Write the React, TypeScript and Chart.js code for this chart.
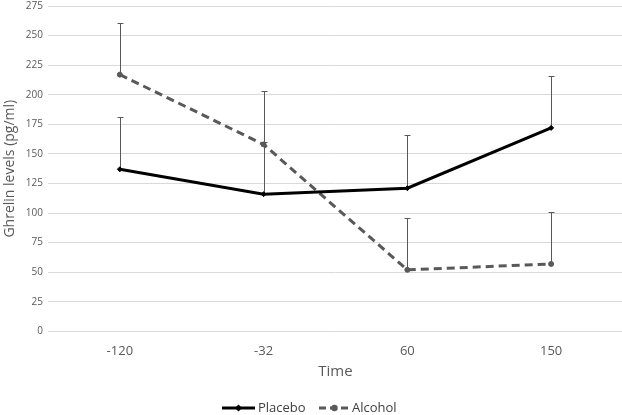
import React, { useEffect, useRef } from "react";
import { Chart, registerables } from "chart.js";

Chart.register(...registerables);

const categories = ["-120", "-32", "60", "150"];
const placeboValues = [137, 116, 121, 172];
const placeboErrUp = [44, 44, 45, 44];
const alcoholValues = [217, 158, 52, 57];
const alcoholErrUp = [44, 45, 44, 44];
const yTicks = [0, 25, 50, 75, 100, 125, 150, 175, 200, 225, 250, 275];

const FONT = "'Open Sans', 'Liberation Sans', sans-serif";
const GRAY = "#595959";
const CW = 628;
const CH = 420;

const errorBarPlugin = {
  id: "errorBars",
  beforeDatasetsDraw(chart: any) {
    const ctx = chart.ctx;
    const x = chart.scales.x;
    const y = chart.scales.y;
    const sets = [
      { vals: placeboValues, err: placeboErrUp },
      { vals: alcoholValues, err: alcoholErrUp },
    ];
    ctx.save();
    ctx.strokeStyle = GRAY;
    ctx.lineWidth = 1;
    sets.forEach((s) => {
      s.vals.forEach((v, i) => {
        const px = Math.round(x.getPixelForValue(i)) + 0.5;
        const y0 = y.getPixelForValue(v);
        const y1 = Math.round(y.getPixelForValue(v + s.err[i])) + 0.5;
        ctx.beginPath();
        ctx.moveTo(px, y0);
        ctx.lineTo(px, y1);
        ctx.moveTo(px - 3, y1);
        ctx.lineTo(px + 3, y1);
        ctx.stroke();
      });
    });
    ctx.restore();
  },
};

const legendPlugin = {
  id: "customLegend",
  afterDraw(chart: any) {
    const ctx = chart.ctx;
    const cy = chart.height - 7;
    ctx.save();
    ctx.font = `13px ${FONT}`;
    ctx.textBaseline = "middle";
    // Placebo
    ctx.strokeStyle = "#000";
    ctx.lineWidth = 3;
    ctx.setLineDash([]);
    ctx.beginPath();
    ctx.moveTo(222, cy);
    ctx.lineTo(255, cy);
    ctx.stroke();
    ctx.fillStyle = "#000";
    ctx.beginPath();
    ctx.moveTo(238.5, cy - 3.5);
    ctx.lineTo(242, cy);
    ctx.lineTo(238.5, cy + 3.5);
    ctx.lineTo(235, cy);
    ctx.closePath();
    ctx.fill();
    ctx.fillStyle = "#404040";
    ctx.fillText("Placebo", 258, cy);
    // Alcohol
    ctx.strokeStyle = GRAY;
    ctx.setLineDash([7, 4]);
    ctx.beginPath();
    ctx.moveTo(319, cy);
    ctx.lineTo(350, cy);
    ctx.stroke();
    ctx.setLineDash([]);
    ctx.fillStyle = GRAY;
    ctx.beginPath();
    ctx.arc(334.5, cy, 3.2, 0, Math.PI * 2);
    ctx.fill();
    ctx.fillStyle = "#404040";
    ctx.fillText("Alcohol", 352, cy);
    ctx.restore();
  },
};

export default function App() {
  const ref = useRef<HTMLCanvasElement>(null);
  useEffect(() => {
    const chart = new Chart(ref.current!, {
      type: "line",
      data: {
        labels: categories,
        datasets: [
          {
            label: "Placebo",
            data: placeboValues,
            borderColor: "#000",
            backgroundColor: "#000",
            borderWidth: 3,
            pointStyle: "rectRot",
            pointRadius: 2.5,
            pointBorderWidth: 1,
            tension: 0,
          },
          {
            label: "Alcohol",
            data: alcoholValues,
            borderColor: GRAY,
            backgroundColor: GRAY,
            borderWidth: 3,
            borderDash: [8, 5],
            pointStyle: "circle",
            pointRadius: 2.5,
            pointBorderWidth: 1,
            tension: 0,
          },
        ],
      },
      options: {
        animation: false,
        responsive: false,
        layout: { padding: { top: -12, right: -14, bottom: 34, left: 2 } },
        plugins: { legend: { display: false }, tooltip: { enabled: false } },
        scales: {
          x: {
            type: "category",
            offset: true,
            grid: { display: false },
            border: { display: false },
            ticks: { color: GRAY, font: { family: FONT, size: 13 }, padding: 4 },
            title: {
              display: true,
              text: "Time",
              color: GRAY,
              font: { family: FONT, size: 15 },
              padding: { top: 0, bottom: 0 },
            },
          },
          y: {
            min: 0,
            max: 275,
            afterBuildTicks(axis: any) {
              axis.ticks = yTicks.map((v) => ({ value: v }));
            },
            grid: { color: "#d9d9d9", lineWidth: 1, drawTicks: false },
            border: { display: false },
            ticks: { color: GRAY, font: { family: FONT, size: 10 }, padding: 5 },
            title: {
              display: true,
              text: "Ghrelin levels (pg/ml)",
              color: GRAY,
              font: { family: FONT, size: 14 },
              padding: { top: 0, bottom: 2 },
            },
          },
        },
      },
      plugins: [errorBarPlugin, legendPlugin],
    } as any);
    return () => chart.destroy();
  }, []);
  return (
    <div
      style={{
        position: "absolute",
        left: 0,
        top: 0,
        width: 622,
        height: 415,
        overflow: "hidden",
        background: "#fff",
      }}
    >
      <canvas
        ref={ref}
        width={CW}
        height={CH}
        style={{ position: "absolute", left: 0, top: -5, width: CW, height: CH }}
      />
    </div>
  );
}
